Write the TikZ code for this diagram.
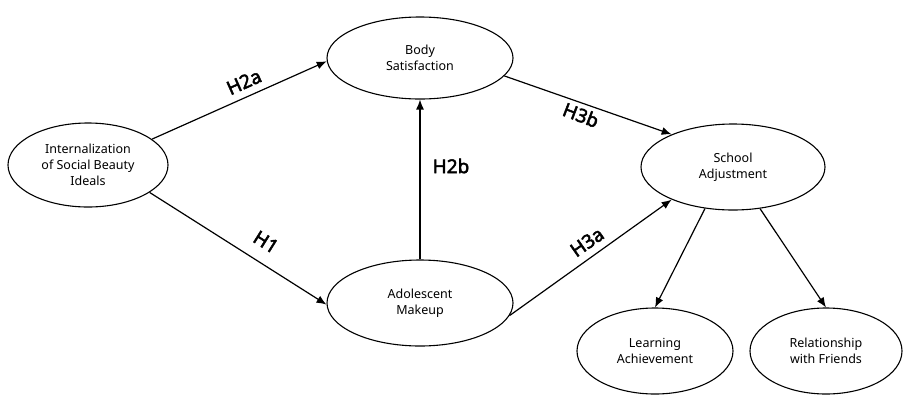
\documentclass[tikz,border=0pt]{standalone}
\usepackage{fontspec}
\setmainfont{Noto Sans}
\newfontfamily\hypfont{Noto Sans}[FakeBold=2.5]
\usetikzlibrary{shapes.geometric,arrows.meta}
\begin{document}
\begin{tikzpicture}[x=1pt,y=-1pt,
  construct/.style={draw,ellipse,line width=1.1pt,inner sep=0pt,align=center,
    font=\fontsize{12.5}{16}\selectfont},
  path/.style={line width=1.2pt,-{Latex[length=10pt,width=8pt]}},
  hyp/.style={font=\hypfont\fontsize{19}{21}\selectfont,inner sep=1pt}]
\useasboundingbox (0,0) rectangle (903,400);
\node[construct,minimum width=160,minimum height=84] (int) at (88,165) {Internalization\\of Social Beauty\\Ideals};
\node[construct,minimum width=186,minimum height=82] (body) at (420,58) {Body\\Satisfaction};
\node[construct,minimum width=186,minimum height=86] (mk) at (420,303) {Adolescent\\Makeup};
\node[construct,minimum width=184,minimum height=86] (sch) at (733,167) {School\\Adjustment};
\node[construct,minimum width=156,minimum height=86] (la) at (655,351) {Learning\\Achievement};
\node[construct,minimum width=152,minimum height=86] (rf) at (826,351) {Relationship\\with Friends};

\draw[path] (int.22) -- (body.182);
\draw[path] (int.-24) -- (mk.181);
\draw[path] (mk.north) -- (body.south);
\draw[path] (body.-12) -- (sch.152);
\draw[path] (mk.-8) -- (sch.208);
\draw[path] (sch.236) -- (la.north);
\draw[path] (sch.303) -- (rf.north);

\node[hyp,rotate=24] (h2a) at (244,82) {H2a};
\node[hyp,rotate=-32] (h1) at (266,242) {H1};
\node[hyp] (h2b) at (451,166) {H2b};
\node[hyp,rotate=-21] (h3b) at (581,115) {H3b};
\node[hyp,rotate=35] (h3a) at (587,242) {H3a};
\end{tikzpicture}
\end{document}
